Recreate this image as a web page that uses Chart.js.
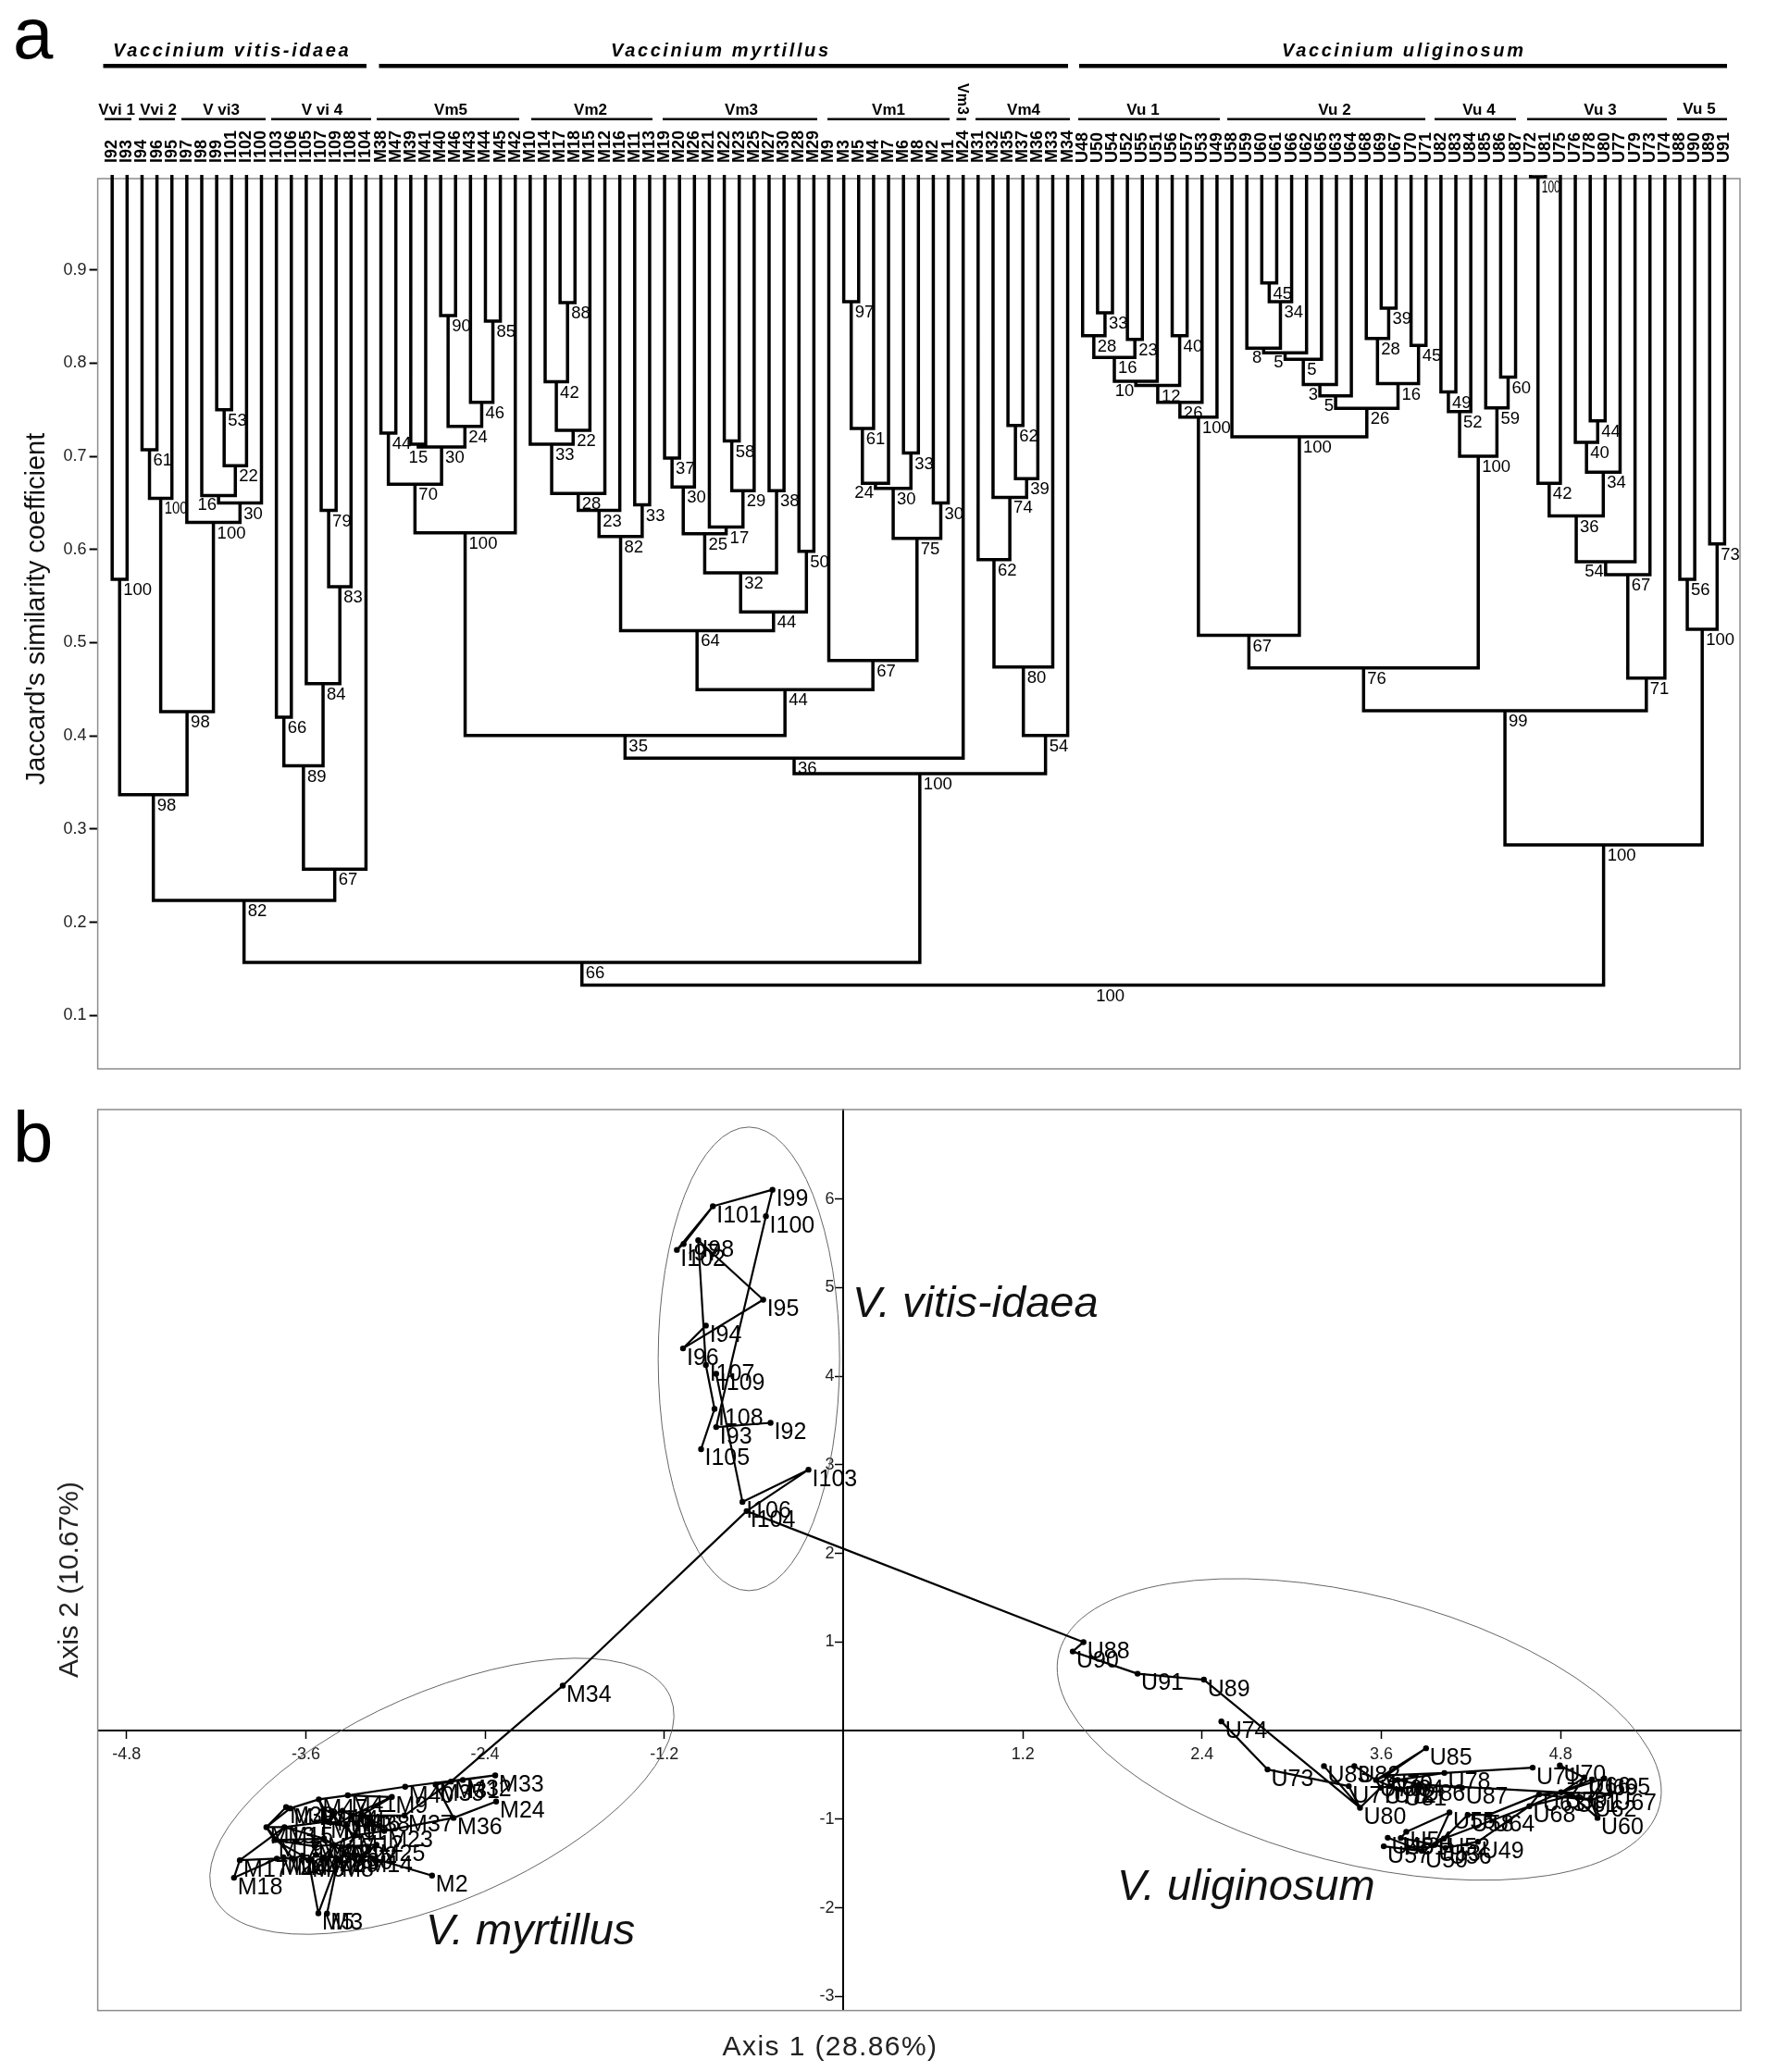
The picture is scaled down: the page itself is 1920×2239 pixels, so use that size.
<!DOCTYPE html>
<html>
<head>
<meta charset="utf-8">
<title>Vaccinium dendrogram and PCoA</title>
<script src="https://cdn.jsdelivr.net/npm/chart.js@4/dist/chart.umd.min.js"></script>
<style>
    html, body { margin: 0; background: #fff; }
    #wrap { position: relative; width: 1920px; height: 2239px; overflow: hidden; }
    canvas { position: absolute; left: 0; }
    #dendroChart { top: 0; }
    #ordChart { top: 1170px; }
</style>
</head>
<body>
<div id="wrap">
    <canvas id="dendroChart" width="1920" height="1170"></canvas>
    <canvas id="ordChart" width="1920" height="1069"></canvas>
</div>
<script>
// === Panel a: dendrogram data ===
const leafNames = [
    'I92','I93','I94','I96','I95','I97','I98','I99','I101','I102','I100','I103','I106','I105','I107','I109','I108','I104',
    'M38','M47','M39','M41','M40','M46','M43','M44','M45','M42','M10','M14','M17','M18','M15','M12','M16','M11','M13',
    'M19','M20','M26','M21','M22','M23','M25','M27','M30','M28','M29','M9','M3','M5','M4','M7','M6','M8','M2','M1','M24',
    'M31','M32','M35','M37','M36','M33','M34',
    'U48','U50','U54','U52','U55','U51','U56','U57','U53','U49','U58','U59','U60','U61','U66','U62','U65','U63','U64',
    'U68','U69','U67','U70','U71','U82','U83','U84','U85','U86','U87','U72','U81','U75','U76','U78','U80','U77','U79',
    'U73','U74','U88','U90','U89','U91'
];
// a name is a leaf, a number is an earlier merge
const mergeLeft = [
    'I92','I94',1,'I99',3,'I98',5,'I97',2,0,'I103','I107',11,'I105',10,14,9,
    'M38','M40','M44','M43',18,'M39',22,17,24,
    'M17','M14',27,'M10',29,30,'M11',31,
    'M19',34,'M22',36,'M21',35,'M27',39,'M28',41,33,
    'M3',45,46,'M6',47,'M2',49,'M9',44,25,54,
    'M35',56,'M32','M31',59,60,55,16,
    'U50','U48','U52',65,67,'U56',68,70,71,
    'U60',73,'U59',75,76,77,78,'U69','U68','U70',81,79,'U58',72,
    'U82',87,'U86','U85',88,86,
    'U72','U78','U76',95,93,97,98,99,100,92,'U88','U89',103,102,63
];
const mergeRight = [
    'I93','I96','I95','I101','I102',4,'I100',6,7,8,'I106','I109','I108',12,13,'I104',15,
    'M47','M46','M45',19,20,'M41',21,23,'M42',
    'M18',26,'M15',28,'M12','M16','M13',32,
    'M20','M26','M23','M25',37,38,'M30',40,'M29',42,43,
    'M5','M4','M7','M8',48,'M1',50,51,52,53,'M24',
    'M37','M36',57,58,'M33','M34',61,62,
    'U54',64,'U55',66,'U51','U57',69,'U53','U49',
    'U61','U66',74,'U62','U65','U63','U64','U67',80,'U71',82,83,84,85,
    'U83','U84','U87',89,90,91,
    'U81','U80',94,'U77','U75',96,'U79','U73','U74',101,'U90','U91',104,105,106
];
const mergeSim = [
    .568,.707,.655,.750,.690,.658,.650,.629,.426,.337,.420,.642,.560,.456,.368,.257,.2235,
    .725,.851,.845,.758,.732,.713,.710,.670,.618,
    .865,.780,.728,.713,.660,.642,.648,.614,
    .698,.667,.7165,.663,.624,.617,.663,.575,.598,.533,.513,
    .866,.730,.671,.7035,.6655,.650,.612,.481,.4495,.4005,.376,
    .733,.676,.656,.589,.474,.4005,.3596,.157,
    .854,.8295,.8255,.806,.7805,.8295,.776,.758,.742,
    .886,.866,.816,.811,.804,.777,.765,.859,.8265,.819,.778,.7516,.721,.508,
    .769,.748,.785,.752,.700,.473,
    1.000,.738,.715,.683,.671,.636,.587,.573,.462,.427,.568,.606,.5145,.283,.1326
];
const mergeBoot = [
    100,61,100,53,22,16,30,100,98,98,66,79,83,84,89,67,82,
    44,90,85,46,24,15,30,70,100,
    88,42,22,33,28,23,33,82,
    37,30,58,29,17,25,38,32,50,44,64,
    97,61,24,33,30,30,75,67,44,35,36,
    62,39,74,62,80,54,100,66,
    33,28,23,16,10,40,12,26,100,
    45,34,8,5,5,3,5,39,28,45,16,26,100,67,
    49,52,60,59,100,76,
    100,44,40,34,42,36,54,67,71,99,56,73,100,100,100
];
const simTicks = [0.1, 0.2, 0.3, 0.4, 0.5, 0.6, 0.7, 0.8, 0.9];
const leafTop = 1.0003;

// bootstrap values that sit on the left of their stem, or are squeezed
const leftLabelMerges = [5, 47, 68, 75, 76, 78, 79, 99];
const narrowLabels = { 2: 25, 93: 20 };

const speciesNames = ['Vaccinium vitis-idaea', 'Vaccinium myrtillus', 'Vaccinium uliginosum'];
const speciesBars = [[111.5, 396], [409.5, 1154], [1166, 1866]];
const speciesText = [122, 660, 1385];

const groupNames = ['Vvi 1','Vvi 2','V vi3','V vi 4','Vm5','Vm2','Vm3','Vm1','Vm4','Vu 1','Vu 2','Vu 4','Vu 3','Vu 5'];
const groupBars = [[113,142],[150,189],[196,287],[293,401],[407,561],[574,705],[716,883],[894,1026],[1054,1156],[1165,1318],[1326,1540],[1550,1638],[1650,1801],[1812,1866]];
const groupText = [126,171,239,348,487,638,801,960,1106,1235,1442,1598,1729,1836];

// === Panel b: ordination data ===
const viNames = ['I99','I101','I100','I97','I102','I98','I95','I94','I96','I107','I109','I108','I92','I93','I105','I103','I106','I104'];
const viX = [-.476,-.875,-.520,-1.071,-1.116,-.973,-.538,-.922,-1.075,-.922,-.853,-.864,-.489,-.853,-.954,-.235,-.677,-.649];
const viY = [6.105,5.918,5.807,5.493,5.426,5.534,4.863,4.572,4.314,4.127,4.027,3.631,3.474,3.426,3.177,2.945,2.582,2.478];

const mNames = ['M34','M33','M24','M32','M36','M31','M35','M37','M9','M40','M2','M23','M25','M14','M18','M17','M5','M3','M38','M41','M47','M39','M42',
    'M43','M44','M45','M46','M10','M11','M12','M13','M15','M16','M19','M20','M21','M22','M26','M27','M28','M29','M30','M1','M4','M6','M7','M8'];
const mX = [-1.88,-2.332,-2.326,-2.549,-2.611,-2.628,-2.731,-2.939,-3.024,-2.935,-2.755,-3.075,-3.127,-3.21,-4.081,-4.042,-3.516,-3.458,-3.23,-3.319,-3.513,-3.732,-3.705,
    -3.478,-3.416,-3.354,-3.292,-3.458,-3.375,-3.272,-3.864,-3.743,-3.478,-3.809,-3.54,-3.416,-3.313,-3.794,-3.623,-3.53,-3.437,-3.344,-3.75,-3.685,-3.582,-3.489,-3.385];
const mY = [.507,-.505,-.801,-.557,-.985,-.575,-.609,-.958,-.749,-.634,-1.637,-1.132,-1.288,-1.411,-1.661,-1.463,-2.062,-2.065,-.958,-.731,-.776,-.864,-.878,
    -.888,-.94,-.906,-.958,-1.027,-1.045,-1.184,-1.09,-1.09,-1.219,-1.236,-1.306,-1.288,-1.306,-1.445,-1.411,-1.403,-1.411,-1.382,-1.43,-1.445,-1.463,-1.445,-1.463];

const uNames = ['U88','U90','U91','U89','U74','U73','U80','U85','U83','U82','U77','U78','U87','U71','U70','U84','U86','U79','U76','U75','U72','U81',
    'U60','U62','U63','U68','U59','U61','U66','U69','U65','U67','U55','U58','U64','U54','U48','U57','U51','U50','U56','U52','U49','U53'];
const uX = [1.606,1.534,1.968,2.412,2.529,2.838,3.457,3.899,3.216,3.419,3.382,4.022,4.14,4.613,4.795,3.709,3.853,3.636,3.564,3.595,3.657,3.729,
    5.047,5.0,4.656,4.591,4.803,4.876,4.958,5.011,5.092,5.134,4.056,4.178,4.318,3.767,3.643,3.616,3.73,3.87,4.029,4.019,4.246,3.957];
const uY = [.999,.893,.642,.575,.104,-.439,-.871,-.199,-.4,-.4,-.627,-.478,-.645,-.418,-.394,-.557,-.609,-.505,-.557,-.645,-.627,-.661,
    -.985,-.784,-.721,-.853,-.697,-.731,-.53,-.551,-.54,-.714,-.923,-.951,-.951,-1.142,-1.209,-1.306,-1.212,-1.358,-1.324,-1.219,-1.254,-1.288];

const ordEdges = [
    'I99-I101','I99-I100','I100-I93','I93-I92','I101-I97','I97-I102','I101-I102','I98-I95','I98-I107','I107-I108','I108-I105','I95-I96','I96-I94',
    'I109-I106','I103-I106','I103-I104','I104-M34','I104-U88',
    'M34-M31','M39-M42','M42-M47','M47-M41','M41-M40','M40-M33','M33-M32','M32-M31','M31-M35','M35-M36','M36-M24','M36-M23','M31-M37','M37-M38',
    'M38-M46','M46-M45','M45-M44','M44-M43','M43-M47','M41-M9','M9-M38','M43-M10','M10-M11','M11-M12','M12-M23','M13-M15','M15-M10','M13-M19',
    'M19-M16','M16-M21','M21-M12','M15-M16','M17-M18','M17-M15','M18-M26','M17-M26','M26-M4','M4-M27','M27-M6','M6-M28','M28-M7','M7-M29','M29-M8',
    'M8-M30','M30-M14','M14-M2','M14-M25','M25-M22','M22-M21','M20-M21','M20-M16','M19-M20','M5-M6','M5-M8','M3-M8','M1-M26','M1-M4','M44-M11','M46-M12',
    'M10-M44','M12-M22','M16-M29','M21-M30','M20-M28','M13-M4','M47-M10','M42-M13','M39-M13','M15-M19','M27-M19','M6-M20','M7-M21','M8-M22','M43-M16',
    'M45-M11','M46-M11','M38-M12','M38-M23','M9-M46',
    'U88-U90','U90-U91','U91-U89','U89-U80','U74-U73','U73-U77','U77-U80','U83-U80','U80-U75','U85-U79','U85-U76','U82-U76','U79-U84','U84-U86','U76-U75',
    'U75-U72','U72-U81','U81-U84','U78-U79','U78-U71','U87-U86','U86-U59','U70-U66','U59-U66','U59-U69','U59-U65','U59-U67','U59-U61','U61-U62','U62-U60',
    'U63-U59','U68-U63','U64-U63','U64-U58','U52-U68','U55-U54','U55-U53','U58-U52','U57-U50','U48-U50','U51-U53','U54-U51','U50-U53','U53-U56','U56-U49','U52-U53','U49-U68',
    'U79-U76','U72-U84','U76-U72','U79-U72','U86-U81','U84-U78',
    'U62-U63','U61-U66','U69-U62','U65-U62','U67-U62','U60-U61','U68-U61','U59-U68'
];
const ordXTicks = [-4.8, -3.6, -2.4, -1.2, 1.2, 2.4, 3.6, 4.8];
const ordYTicks = [-3, -2, -1, 1, 2, 3, 4, 5, 6];

const FONT = '"Liberation Sans", Arial, sans-serif';
const boxColor = '#8c8c8c';

function drawText(ctx, text, x, y, font, opts) {
    opts = opts || {};
    ctx.save();
    ctx.translate(x, y);
    if (opts.rotate) ctx.rotate(opts.rotate);
    ctx.font = font + ' ' + FONT;
    ctx.fillStyle = opts.color || '#000';
    ctx.textAlign = opts.align || 'left';
    ctx.textBaseline = opts.baseline || 'alphabetic';
    ctx.letterSpacing = opts.spacing || '0px';
    if (opts.maxWidth) ctx.fillText(text, 0, 0, opts.maxWidth);
    else ctx.fillText(text, 0, 0);
    ctx.restore();
}

// === Dendrogram geometry: a stem x is the middle of its two children ===
const mergeMid = [];
function refX(ref) { return typeof ref === 'number' ? mergeMid[ref] : leafNames.indexOf(ref); }
function refY(ref) { return typeof ref === 'number' ? mergeSim[ref] : leafTop; }

const treeLines = [];
mergeLeft.forEach((left, i) => {
    const right = mergeRight[i];
    const xa = refX(left), xb = refX(right);
    mergeMid[i] = (xa + xb) / 2;
    treeLines.push({ x: xa, y: refY(left) }, { x: xa, y: mergeSim[i] }, { x: xb, y: mergeSim[i] }, { x: xb, y: refY(right) }, { x: NaN, y: NaN });
});

const boxPlugin = {
    id: 'plotBox',
    beforeDatasetsDraw(chart) {
        const a = chart.chartArea, ctx = chart.ctx;
        ctx.save();
        ctx.strokeStyle = boxColor;
        ctx.lineWidth = 1.5;
        ctx.strokeRect(a.left, a.top, a.right - a.left, a.bottom - a.top);
        ctx.restore();
    }
};

const dendroLabels = {
    id: 'dendroLabels',
    afterDatasetsDraw(chart) {
        const ctx = chart.ctx, xs = chart.scales.x, ys = chart.scales.y;
        leafNames.forEach((name, i) => {
            drawText(ctx, name, xs.getPixelForValue(i), 176, 'bold 18px', { baseline: 'middle', rotate: -Math.PI / 2 });
        });
        mergeBoot.forEach((val, i) => {
            const px = xs.getPixelForValue(mergeMid[i]);
            const py = ys.getPixelForValue(mergeSim[i]);
            const text = String(val);
            if (i === mergeBoot.length - 1) {
                drawText(ctx, text, px + 19, py + 12, '18.5px', { align: 'center', baseline: 'middle' });
            } else if (mergeLeft[i] === 'M39') {
                drawText(ctx, text, px, py + 15, '18.5px', { align: 'center', baseline: 'middle' });
            } else if (leftLabelMerges.includes(i)) {
                drawText(ctx, text, px - 2, py + 11, '18.5px', { align: 'right', baseline: 'middle' });
            } else {
                drawText(ctx, text, px + 4, py + 12, '18.5px', { baseline: 'middle', maxWidth: narrowLabels[i] });
            }
        });
        // species and group headers
        speciesNames.forEach((name, i) => {
            drawText(ctx, name, speciesText[i], 61, 'italic bold 20px', { spacing: '2.6px' });
            ctx.fillStyle = '#000';
            ctx.fillRect(speciesBars[i][0], 69, speciesBars[i][1] - speciesBars[i][0], 4.5);
        });
        groupNames.forEach((name, i) => {
            drawText(ctx, name, groupText[i], i === 13 ? 118 : 119.5, 'bold 17px', { align: 'center', baseline: 'middle' });
            ctx.fillStyle = '#000';
            ctx.fillRect(groupBars[i][0], 127.5, groupBars[i][1] - groupBars[i][0], 2.5);
        });
        drawText(ctx, 'Vm3', 1039, 107, 'bold 16px', { align: 'center', baseline: 'middle', rotate: Math.PI / 2 });
        ctx.fillStyle = '#000';
        ctx.fillRect(1033.5, 127.5, 10.5, 2.5);
        // panel letter and axis title
        drawText(ctx, 'a', 14, 63, '78px');
        drawText(ctx, "Jaccard's similarity coefficient", 48, 658, '29px', { align: 'center', rotate: -Math.PI / 2, color: '#111' });
    }
};

new Chart(document.getElementById('dendroChart'), {
    type: 'scatter',
    data: {
        datasets: [{
            data: treeLines,
            showLine: true,
            borderColor: '#000',
            borderWidth: 3.5,
            borderCapStyle: 'square',
            borderJoinStyle: 'miter',
            pointRadius: 0,
            tension: 0,
            spanGaps: false,
            clip: false
        }]
    },
    options: {
        responsive: false,
        animation: false,
        layout: { padding: { left: 0, top: 0, right: 40, bottom: 15 } },
        plugins: { legend: { display: false }, tooltip: { enabled: false } },
        scales: {
            x: {
                type: 'linear',
                position: 'top',
                min: -0.967,
                max: 109.03,
                afterFit(scale) { scale.height = 193; },
                grid: { display: false, drawTicks: false },
                border: { display: false },
                ticks: { display: false }
            },
            y: {
                type: 'linear',
                min: 0.0427,
                max: 0.998,
                afterFit(scale) { scale.width = 105.6; },
                afterBuildTicks(scale) { scale.ticks = simTicks.map((v) => ({ value: v })); },
                grid: { drawOnChartArea: false, tickLength: 9, tickColor: '#000', tickWidth: 2 },
                border: { display: false },
                ticks: {
                    padding: 3,
                    color: '#222',
                    font: { family: FONT, size: 18 },
                    callback: (v) => v.toFixed(1)
                }
            }
        }
    },
    plugins: [boxPlugin, dendroLabels]
});

// === Ordination points and the tree joining them ===
const allNames = viNames.concat(mNames, uNames);
const allX = viX.concat(mX, uX);
const allY = viY.concat(mY, uY);
const ordPoints = allNames.map((n, i) => ({ x: allX[i], y: allY[i] }));

const edgeLines = [];
ordEdges.forEach((e) => {
    const [a, b] = e.split('-');
    edgeLines.push(ordPoints[allNames.indexOf(a)], ordPoints[allNames.indexOf(b)], { x: NaN, y: NaN });
});

// ellipse centre in axis units, radii in pixels and tilt in degrees
const ellipses = [
    { cx: -0.634, cy: 4.196, a: 98, b: 250.5, tilt: 0 },
    { cx: -2.689, cy: -0.741, a: 269.2, b: 112.6, tilt: -23.6 },
    { cx: 3.452, cy: 0.013, a: 334.8, b: 144.9, tilt: 14.3 }
];

const ordDecor = {
    id: 'ordDecor',
    beforeDatasetsDraw(chart) {
        const ctx = chart.ctx, xs = chart.scales.x, ys = chart.scales.y;
        ctx.save();
        ctx.strokeStyle = '#666';
        ctx.lineWidth = 1;
        ellipses.forEach((el) => {
            ctx.beginPath();
            ctx.ellipse(xs.getPixelForValue(el.cx), ys.getPixelForValue(el.cy), el.a, el.b, el.tilt * Math.PI / 180, 0, Math.PI * 2);
            ctx.stroke();
        });
        ctx.restore();
    },
    afterDatasetsDraw(chart) {
        const ctx = chart.ctx, xs = chart.scales.x, ys = chart.scales.y;
        allNames.forEach((name, i) => {
            drawText(ctx, name, xs.getPixelForValue(allX[i]) + 4, ys.getPixelForValue(allY[i]) + 17.5, '25px', { color: '#000' });
        });
        drawText(ctx, 'V. vitis-idaea', 921, 253, 'italic 47px', { color: '#111' });
        drawText(ctx, 'V. myrtillus', 460, 931, 'italic 47px', { color: '#111' });
        drawText(ctx, 'V. uliginosum', 1207, 883, 'italic 47px', { color: '#111' });
        drawText(ctx, 'b', 14, 86, '78px');
        drawText(ctx, 'Axis 2 (10.67%)', 84, 537, '30px', { align: 'center', rotate: -Math.PI / 2, color: '#222' });
        drawText(ctx, 'Axis 1 (28.86%)', 897, 1051, '30px', { align: 'center', color: '#222', spacing: '1.4px' });
    }
};

new Chart(document.getElementById('ordChart'), {
    type: 'scatter',
    data: {
        datasets: [{
            data: edgeLines,
            showLine: true,
            borderColor: '#000',
            borderWidth: 2.2,
            pointRadius: 0,
            tension: 0,
            spanGaps: false
        }, {
            data: ordPoints,
            showLine: false,
            pointRadius: 3.2,
            pointBackgroundColor: '#000',
            pointBorderWidth: 0
        }]
    },
    options: {
        responsive: false,
        animation: false,
        layout: { padding: { left: 105.6, top: 29, right: 39, bottom: 66.4 } },
        plugins: { legend: { display: false }, tooltip: { enabled: false } },
        scales: {
            x: {
                type: 'linear',
                position: { y: 0 },
                min: -4.993,
                max: 6.007,
                afterBuildTicks(scale) { scale.ticks = ordXTicks.map((v) => ({ value: v })); },
                grid: { drawOnChartArea: false, tickLength: 8, tickColor: '#000', tickWidth: 1.5 },
                border: { color: '#000', width: 2 },
                ticks: {
                    autoSkip: false,
                    maxRotation: 0,
                    padding: 7,
                    color: '#222',
                    font: { family: FONT, size: 18 },
                    callback: (v) => String(v)
                }
            },
            y: {
                type: 'linear',
                position: { x: 0 },
                min: -3.16,
                max: 7.01,
                afterBuildTicks(scale) { scale.ticks = ordYTicks.map((v) => ({ value: v })); },
                grid: { drawOnChartArea: false, tickLength: 8, tickColor: '#000', tickWidth: 1.5 },
                border: { color: '#000', width: 2 },
                ticks: {
                    autoSkip: false,
                    padding: 3,
                    color: '#222',
                    font: { family: FONT, size: 18 },
                    // this axis sits inside the plot, so the gap to the tick comes from the label
                    callback: (v) => String(v) + '  '
                }
            }
        }
    },
    plugins: [boxPlugin, ordDecor]
});
</script>
</body>
</html>
